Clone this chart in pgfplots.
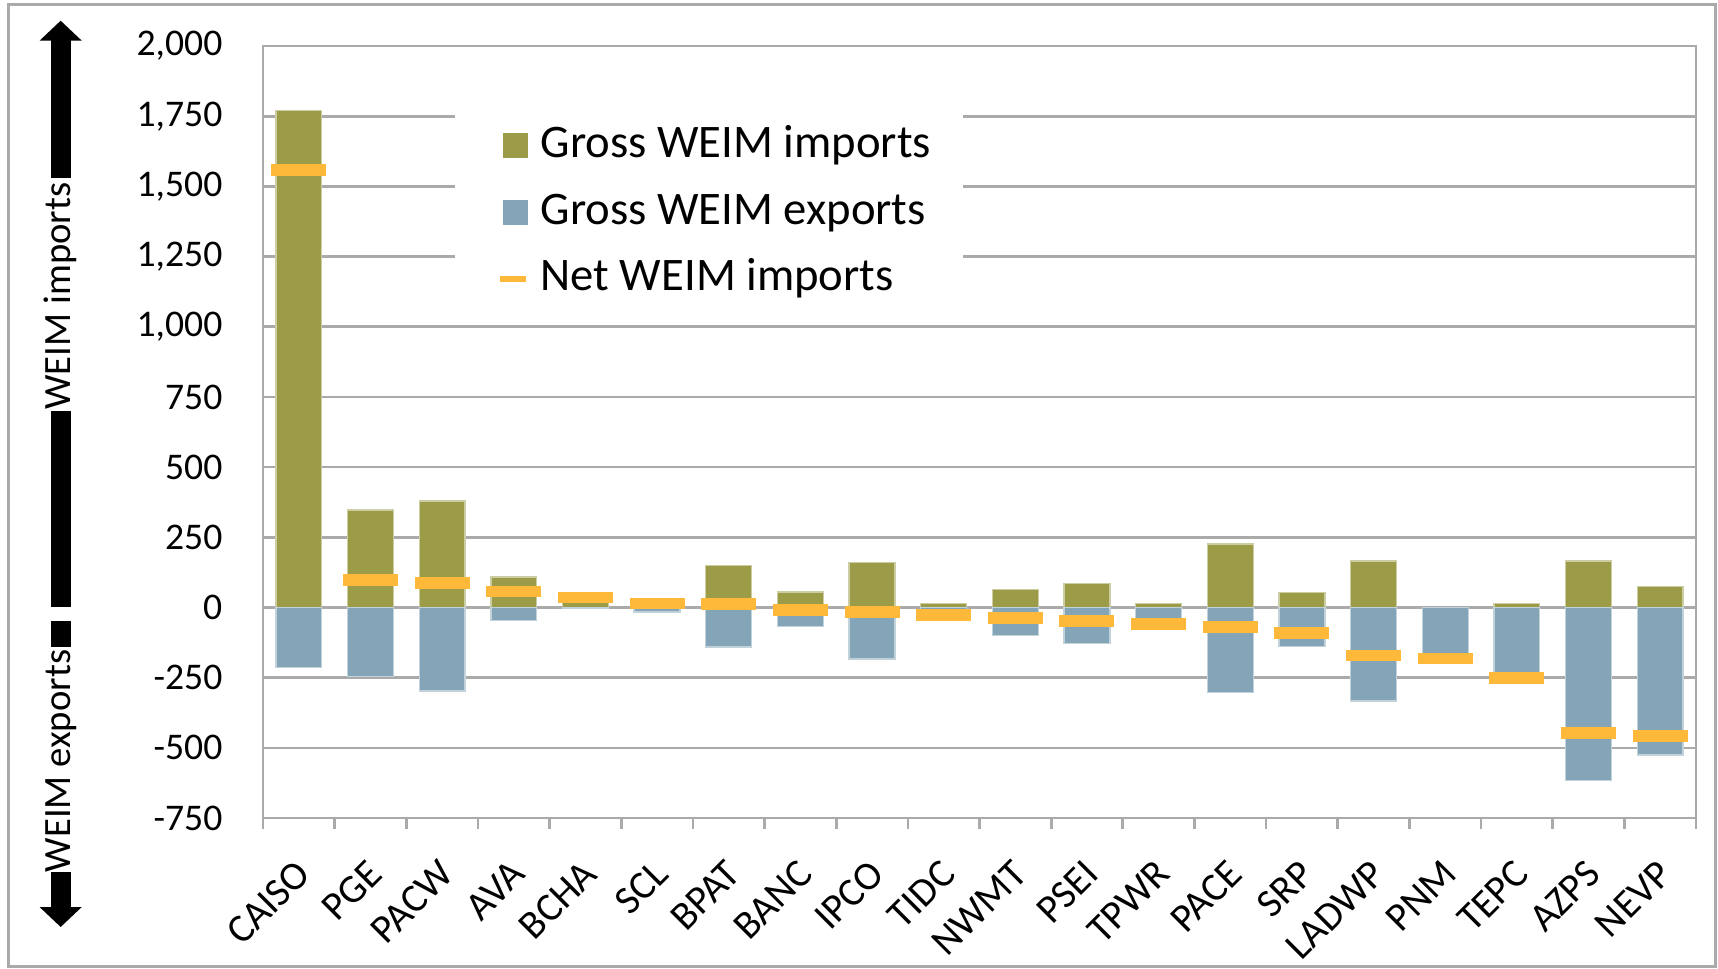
\documentclass[border=0pt]{standalone}
\usepackage{fontspec}
\setmainfont{Carlito}
\usepackage{pgfplots}
\pgfplotsset{compat=1.18}
\usepackage{pgfplotstable}
\usetikzlibrary{arrows.meta}
\definecolor{impc}{RGB}{155,155,72}
\definecolor{expc}{RGB}{132,165,184}
\definecolor{netc}{RGB}{255,185,58}
\definecolor{gridc}{RGB}{170,170,170}

\pgfplotstableread{
idx imp exp net
0 1770 -214 1559
1 347 -245 97
2 379 -297 86
3 109 -47 57
4 38 -3 35
5 30 -16 14
6 149 -141 12
7 55 -68 -8
8 160 -183 -15
9 14 -40 -26
10 64 -99 -37
11 85 -129 -48
12 13 -75 -58
13 226 -303 -69
14 54 -139 -90
15 166 -333 -171
16 0 -190 -182
17 13 -265 -252
18 166 -617 -446
19 75 -526 -457
}\weim

\begin{document}
\begin{tikzpicture}
\useasboundingbox (0pt,0pt) rectangle (515.4pt,290.4pt);
\draw[gridc, line width=0.9pt] (2.4pt,0.6pt) rectangle (514.5pt,289.2pt);
\begin{axis}[
  at={(78.9pt,45pt)}, anchor=south west,
  scale only axis, width=429.9pt, height=231.6pt,
  xmin=-0.5, xmax=19.5, ymin=-750, ymax=2000,
  ytick={-750,-500,...,2000},
  xtick={0,...,19},
  xticklabels={CAISO,PGE,PACW,AVA,BCHA,SCL,BPAT,BANC,IPCO,TIDC,NWMT,PSEI,TPWR,PACE,SRP,LADWP,PNM,TEPC,AZPS,NEVP},
  minor xtick={-0.5,0.5,...,19.5},
  xtick pos=left, ytick pos=left,
  tick align=outside,
  major tick length=0pt,
  minor tick length=3.3pt,
  minor x tick style={draw=gridc, line width=0.8pt},
  axis line style={draw=gridc, line width=0.8pt},
  ymajorgrids, grid style={draw=gridc, line width=0.8pt},
  /pgf/number format/assume math mode=true,
  /pgf/number format/1000 sep={,},
  scaled y ticks=false,
  yticklabel style={font=\fontsize{11.3}{13}\selectfont, inner sep=0pt, xshift=-12pt},
  xticklabel style={font=\fontsize{12}{14}\selectfont, inner sep=0pt, xshift=-1.4pt, yshift=-11.8pt, rotate=45, anchor=north east},
  legend cell align=left,
  legend style={at={(0.1333,0.917)}, anchor=north west, draw=none, fill=white,
    font=\fontsize{14}{16}\selectfont, inner xsep=9.5pt, inner ysep=4pt, row sep=7pt,
    nodes={inner sep=0pt, text height=10pt, text depth=3pt},
    /tikz/every odd column/.append style={column sep=3.4pt}},
]
\addplot[ybar, bar shift=0pt, bar width=0.64, fill=impc, draw=impc!50!white, line width=0.4pt,
  legend image code/.code={\path (-5pt,0pt); \fill[impc] (0pt,-3.6pt) rectangle (7.2pt,3.6pt);}]
  table[x=idx, y=imp]{\weim};
\addplot[ybar, bar shift=0pt, bar width=0.64, fill=expc, draw=expc!50!white, line width=0.4pt,
  legend image code/.code={\path (-5pt,0pt); \fill[expc] (0pt,-3.6pt) rectangle (7.2pt,3.6pt);}]
  table[x=idx, y=exp]{\weim};
\addplot[only marks, mark=-, mark size=8.25pt, mark options={draw=netc, line width=3.5pt},
  legend image code/.code={\path (-5pt,0pt); \draw[netc, line width=1.8pt] (-1pt,0pt) -- (6.8pt,0pt);}]
  table[x=idx, y=net]{\weim};
\legend{Gross WEIM imports, Gross WEIM exports, Net WEIM imports}
\end{axis}
% left arrows
\draw[line width=6pt, -{Triangle[width=12.3pt,length=6pt]}] (18.2pt,237pt) -- (18.2pt,284.2pt);
\draw[line width=6pt] (18.2pt,108.3pt) -- (18.2pt,167pt);
\node[rotate=90, anchor=base, inner sep=0pt, font=\fontsize{11.6}{13}\selectfont] at (21pt,201.6pt) {WEIM imports};
\draw[line width=6pt] (18.2pt,104.1pt) -- (18.2pt,96.3pt);
\node[rotate=90, anchor=base, inner sep=0pt, font=\fontsize{11.6}{13}\selectfont] at (21pt,62.1pt) {WEIM exports};
\draw[line width=6pt, -{Triangle[width=12.3pt,length=6pt]}] (18.2pt,28.8pt) -- (18.2pt,12.3pt);
\end{tikzpicture}
\end{document}
